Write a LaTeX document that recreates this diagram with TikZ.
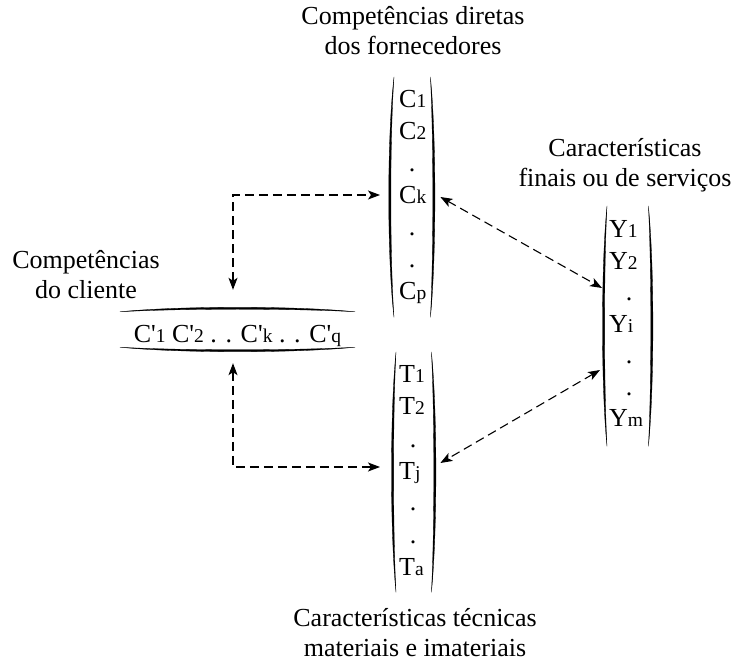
\documentclass[tikz,border=0pt]{standalone}
\usepackage{fontspec}
\setmainfont{Liberation Serif}
\usetikzlibrary{arrows.meta,calc}
\newcommand{\ix}[1]{{\fontsize{19.5}{20}\selectfont #1}}
\newcommand{\lpar}[2]{\filldraw[line width=.3pt] (#1.north west)
 .. controls ($(#1.north west)!.25!(#1.south west)+(-#2,0)$) and ($(#1.north west)!.75!(#1.south west)+(-#2,0)$) .. (#1.south west)
 .. controls ($(#1.north west)!.75!(#1.south west)+(-#2+2.8,0)$) and ($(#1.north west)!.25!(#1.south west)+(-#2+2.8,0)$) .. cycle}
\newcommand{\rpar}[2]{\filldraw[line width=.3pt] (#1.north east)
 .. controls ($(#1.north east)!.25!(#1.south east)+(#2,0)$) and ($(#1.north east)!.75!(#1.south east)+(#2,0)$) .. (#1.south east)
 .. controls ($(#1.north east)!.75!(#1.south east)+(#2-2.8,0)$) and ($(#1.north east)!.25!(#1.south east)+(#2-2.8,0)$) .. cycle}
\newcommand{\hpar}[1]{\filldraw[line width=.3pt] (#1.north west)
 .. controls ($(#1.north west)!.25!(#1.north east)+(0,-6)$) and ($(#1.north west)!.75!(#1.north east)+(0,-6)$) .. (#1.north east)
 .. controls ($(#1.north west)!.75!(#1.north east)+(0,-3.4)$) and ($(#1.north west)!.25!(#1.north east)+(0,-3.4)$) .. cycle;
 \filldraw[line width=.3pt] (#1.south west)
 .. controls ($(#1.south west)!.25!(#1.south east)+(0,6)$) and ($(#1.south west)!.75!(#1.south east)+(0,6)$) .. (#1.south east)
 .. controls ($(#1.south west)!.75!(#1.south east)+(0,3.4)$) and ($(#1.south west)!.25!(#1.south east)+(0,3.4)$) .. cycle}

\begin{document}
\begin{tikzpicture}[x=1pt,y=-1pt,
	title/.style={align=center,inner sep=0,font=\fontsize{26}{30}\selectfont},
	entry/.style={anchor=base west,inner sep=0,font=\fontsize{26}{30}\selectfont},
	pt/.style={anchor=base,inner sep=0,font=\fontsize{26}{30}\selectfont},
	colbox/.style={anchor=north west,inner sep=0,minimum height=240},
	link/.style={{Stealth[length=12pt,width=9pt,inset=3pt]}-{Stealth[length=12pt,width=9pt,inset=3pt]},
		dash pattern=on 9pt off 5pt,line width=1.1pt}]
	\useasboundingbox (0,0) rectangle (740,663);
	% titles (base = last line)
	\node[title,anchor=base] (tC) at (413,55) {Competências diretas\\dos fornecedores};
	\node[title,anchor=base] (tY) at (625,187) {Características\\finais ou de serviços};
	\node[title,anchor=base] (tT) at (415,656) {Características técnicas\\materiais e imateriais};
	\node[title,anchor=base] (tCl) at (86,299) {Competências\\do cliente};
	% client row
	\node[inner sep=0,minimum width=235,minimum height=35,text height=26pt,text depth=0pt,
		font=\fontsize{26}{30}\selectfont] (cli) at (237.5,329.5)
		{C\textquotesingle\ix{1} C\textquotesingle\ix{2} . . C\textquotesingle\ix{k} . . C\textquotesingle\ix{q}};
	\hpar{cli};
	% columns
	\node[colbox,minimum width=36] (colC) at (394,77) {};
	\node[colbox,minimum width=35] (colT) at (396,352) {};
	\node[colbox,minimum width=41] (colY) at (607,206) {};
	\lpar{colC}{7}; \rpar{colC}{6};
	\lpar{colT}{6}; \rpar{colT}{6};
	\lpar{colY}{6}; \rpar{colY}{6};
	\node[entry] (c1) at (399,108) {C\ix{1}};
	\node[entry] (c2) at (399,140) {C\ix{2}};
	\node[pt] (cd1) at (412,172) {.};
	\node[entry] (ck) at (399,204) {C\ix{k}};
	\node[pt] (cd2) at (412,236) {.};
	\node[pt] (cd3) at (412,268) {.};
	\node[entry] (cp) at (399,300) {C\ix{p}};
	\node[entry] (t1) at (399,383) {T\ix{1}};
	\node[entry] (t2) at (399,415) {T\ix{2}};
	\node[pt] (td1) at (413,447) {.};
	\node[entry] (tj) at (399,479) {T\ix{j}};
	\node[pt] (td2) at (413,511) {.};
	\node[pt] (td3) at (413,543) {.};
	\node[entry] (ta) at (399,575) {T\ix{a}};
	\node[entry] (y1) at (609,238) {Y\ix{1}};
	\node[entry] (y2) at (609,269.5) {Y\ix{2}};
	\node[pt] (yd1) at (629,301) {.};
	\node[entry] (yi) at (609,332.5) {Y\ix{i}};
	\node[pt] (yd2) at (629,364) {.};
	\node[pt] (yd3) at (629,395.5) {.};
	\node[entry] (ym) at (609,427) {Y\ix{m}};
	% connectors
	\coordinate (cliUp) at ($(cli.north)+(-4.5,-22)$);
	\coordinate (cliDn) at ($(cli.south)+(-4.5,16)$);
	\coordinate (cIn) at ($(colC.west |- ck.base)+(-14,-9)$);
	\coordinate (tIn) at ($(colT.west |- tj.base)+(-16,-12)$);
	\coordinate (cOut) at ($(colC.east |- ck.base)+(10,-7)$);
	\coordinate (tOut) at ($(colT.east |- tj.base)+(9,-16)$);
	\coordinate (yUp) at ($(colY.west |- y2.base)+(-5,18.5)$);
	\coordinate (yDn) at ($(colY.west |- yd2.base)+(-7,6)$);
	\draw[link] (cliUp) |- (cIn);
	\draw[link] (cliDn) |- (tIn);
	\draw[link] (cOut) -- (yUp);
	\draw[link] (yDn) -- (tOut);
\end{tikzpicture}
\end{document}
